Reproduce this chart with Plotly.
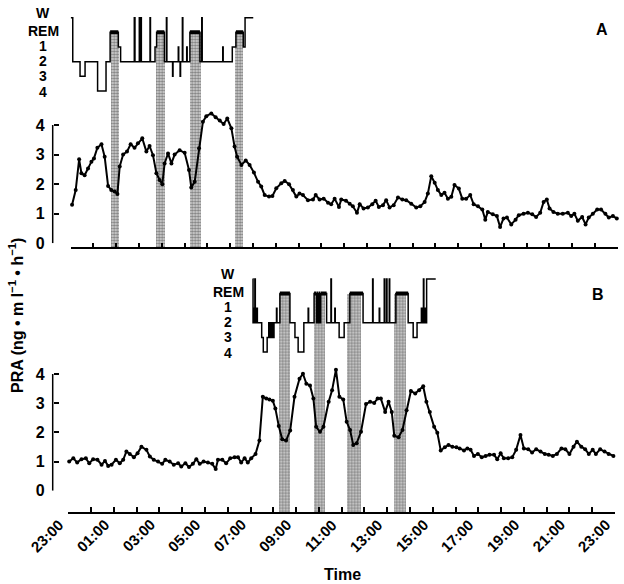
import plotly.graph_objects as go

# ---------------- data ----------------
tick_hours = list(range(25))
tick_labels = ["23:00", "", "01:00", "", "03:00", "", "05:00", "", "07:00", "", "09:00", "", "11:00", "",
               "13:00", "", "15:00", "", "17:00", "", "19:00", "", "21:00", "", "23:00"]
stage_names = ["W", "REM", "1", "2", "3", "4"]
stage_level = {"4": 0, "3": 1, "2": 2, "1": 3, "REM": 4, "W": 5}

# Panel A : PRA (hours after 23:00)
pra_a_t = [0.06, 0.22, 0.37, 0.47, 0.61, 0.76, 0.91, 1.02, 1.17, 1.35,
           1.49, 1.64, 1.78, 1.93, 2.05, 2.15, 2.3, 2.47, 2.63, 2.8,
           2.95, 3.14, 3.32, 3.46, 3.61, 3.76, 3.9, 4.02, 4.12, 4.27,
           4.42, 4.56, 4.78, 5.0, 5.19, 5.29, 5.44, 5.63, 5.8, 5.95,
           6.17, 6.36, 6.54, 6.71, 6.87, 7.05, 7.19, 7.3, 7.49, 7.68,
           7.85, 8.04, 8.22, 8.36, 8.51, 8.7, 8.85, 9.02, 9.24, 9.39,
           9.58, 9.75, 9.9,
           10.04, 10.19, 10.41, 10.63, 10.75, 10.92, 11.1, 11.29, 11.43, 11.58,
           11.77, 11.87, 12.08, 12.24, 12.38, 12.56, 12.68, 12.85, 13.04, 13.23,
           13.38, 13.52, 13.7, 13.84, 13.99, 14.17, 14.36, 14.55, 14.72, 14.94,
           15.16, 15.34, 15.53, 15.67, 15.82, 15.97, 16.11, 16.26, 16.4, 16.55,
           16.7, 16.84, 17.03, 17.18, 17.35, 17.53, 17.68, 17.87, 18.06, 18.19,
           18.3, 18.52, 18.7, 18.84, 18.99, 19.14, 19.33, 19.52, 19.66, 19.87,
           20.06, 20.25, 20.42, 20.6, 20.75, 20.89, 21.01, 21.18, 21.37, 21.59,
           21.81, 21.96, 22.1, 22.25, 22.44, 22.59, 22.73, 22.91, 23.1, 23.27,
           23.46, 23.61, 23.79, 23.96]
pra_a_v = [1.3, 1.8, 2.84, 2.37, 2.3, 2.53, 2.76, 2.87, 3.23, 3.35,
           2.93, 1.94, 1.8, 1.75, 1.67, 2.6, 3.0, 3.1, 3.35, 3.23,
           3.38, 3.55, 3.1, 3.29, 2.98, 2.37, 2.14, 2.0, 2.7, 3.04,
           2.7, 3.0, 3.15, 3.06, 2.48, 1.89, 2.08, 3.21, 4.11, 4.3,
           4.39, 4.26, 4.15, 4.03, 4.22, 3.89, 3.27, 2.93, 2.65, 2.8,
           2.65, 2.39, 2.08, 1.92, 1.63, 1.58, 1.6, 1.86, 2.03, 2.11,
           2.0, 1.8, 1.58,
           1.68, 1.63, 1.46, 1.48, 1.63, 1.48, 1.51, 1.37, 1.32, 1.51,
           1.23, 1.48, 1.44, 1.34, 1.25, 1.03, 1.32, 1.18, 1.21, 1.32,
           1.44, 1.23, 1.29, 1.46, 1.21, 1.29, 1.55, 1.48, 1.46, 1.34,
           1.21, 1.25, 1.4, 1.68, 2.27, 2.05, 1.8, 1.63, 1.71, 1.51,
           1.57, 1.97, 1.85, 1.51, 1.51, 1.63, 1.32, 1.25, 1.14, 0.8,
           1.06, 0.98, 0.92, 0.55, 0.84, 0.87, 0.64, 0.8, 0.95, 1.0,
           1.03, 0.98, 0.89, 1.03, 1.4, 1.48, 1.18, 1.06, 1.0, 1.0,
           1.03, 0.92, 1.0, 0.76, 0.89, 0.64, 0.87, 1.0, 1.14, 1.14,
           1.0, 0.87, 0.92, 0.84]

# Panel B : PRA
pra_b_t = [0.04, 0.22, 0.39, 0.58, 0.77, 0.92, 1.09, 1.28, 1.46, 1.61,
           1.75, 1.9, 2.09, 2.26, 2.41, 2.55, 2.7, 2.88, 3.04, 3.21,
           3.43, 3.58, 3.75, 3.94, 4.12, 4.26, 4.45, 4.63, 4.82, 4.96,
           5.14, 5.3, 5.47, 5.62, 5.77, 5.94, 6.13, 6.32, 6.47, 6.57,
           6.76, 6.93, 7.11, 7.3, 7.45, 7.59, 7.74, 7.88, 8.03, 8.22,
           8.39, 8.54, 8.69, 8.83, 8.98, 9.09, 9.24, 9.39, 9.56, 9.74,
           9.93,
           10.15, 10.3, 10.45, 10.61, 10.76, 10.88, 11.05, 11.2, 11.43, 11.58,
           11.75, 11.9, 12.07, 12.22, 12.37, 12.51, 12.66, 12.85, 13.07, 13.25,
           13.43, 13.58, 13.72, 13.91, 14.06, 14.2, 14.31, 14.5, 14.67, 14.85,
           15.04, 15.23, 15.4, 15.58, 15.72, 15.87, 16.06, 16.2, 16.35, 16.53,
           16.69, 16.86, 17.04, 17.18, 17.37, 17.52, 17.66, 17.81, 17.98, 18.15,
           18.32, 18.49, 18.69, 18.83, 18.98, 19.12, 19.31, 19.49, 19.66, 19.85,
           20.0, 20.19, 20.36, 20.54, 20.73, 20.92, 21.09, 21.27, 21.45, 21.65,
           21.82, 22.0, 22.18, 22.33, 22.52, 22.69, 22.85, 23.02, 23.16, 23.35,
           23.54, 23.72, 23.93]
pra_b_v = [1.0, 1.11, 0.97, 1.08, 1.11, 0.94, 1.08, 1.06, 0.89, 1.02,
           0.85, 0.89, 1.06, 0.94, 1.06, 1.34, 1.26, 1.15, 1.28, 1.51,
           1.4, 1.17, 1.06, 1.0, 0.92, 1.06, 1.0, 0.89, 0.94, 0.83,
           0.94, 0.81, 0.92, 1.08, 0.92, 1.0, 0.97, 0.92, 0.74, 1.06,
           1.06, 0.94, 1.11, 1.15, 1.15, 0.97, 1.11, 0.97, 1.11, 1.26,
           1.72, 3.22, 3.16, 3.13, 3.08, 2.82, 2.22, 1.76, 1.72, 2.06,
           3.22,
           3.84, 4.01, 3.67, 3.61, 3.16, 2.19, 2.02, 2.19, 3.05, 3.44,
           4.15, 3.22, 3.13, 2.36, 2.08, 1.57, 1.63, 2.02, 2.97, 3.05,
           3.01, 3.16, 3.16, 2.7, 3.05, 2.7, 1.88, 1.83, 2.08, 2.76,
           3.42, 3.33, 3.44, 3.58, 3.05, 2.7, 2.19, 1.99, 1.38, 1.49,
           1.57, 1.51, 1.49, 1.45, 1.38, 1.45, 1.4, 1.19, 1.26, 1.15,
           1.19, 1.23, 1.23, 1.08, 1.28, 1.11, 1.11, 1.15, 1.4, 1.91,
           1.45, 1.42, 1.31, 1.42, 1.34, 1.26, 1.23, 1.19, 1.26, 1.45,
           1.42, 1.26, 1.51, 1.68, 1.51, 1.42, 1.26, 1.4, 1.26, 1.42,
           1.34, 1.26, 1.19]

# Hypnograms (stage change times, hours after 23:00)
hyp_a_t = [0.0, 0.09, 0.41, 0.63, 1.18, 1.55, 1.73, 2.09, 2.19, 2.79,
           2.82, 3.01, 3.03, 3.08, 3.10, 3.48, 3.50, 3.70, 3.77, 4.11,
           4.20, 4.22, 4.47, 4.49, 4.72, 4.74, 4.80, 4.82, 4.90, 4.92,
           5.09, 5.11, 5.23, 5.67, 5.75, 5.77, 6.67, 6.69, 7.09, 7.25,
           7.57, 7.65, 8.01]
hyp_a_s = ["W", "2", "3", "2", "4", "2", "REM", "1", "2", "W",
           "2", "W", "2", "W", "2", "W", "2", "1", "REM", "2",
           "W", "2", "3", "2", "1", "2", "3", "2", "W", "2",
           "1", "2", "REM", "2", "W", "2", "1", "2", "1", "REM",
           "1", "W", "W"]

hyp_b_t = [8.09, 8.11, 8.15, 8.17, 8.19, 8.21, 8.24, 8.27, 8.30, 8.49,
           8.56, 8.73, 8.80, 8.84, 8.88, 8.92, 8.96, 8.99, 9.03, 9.14,
           9.16, 9.29, 9.73, 9.95, 10.09, 10.34, 10.53, 10.55, 10.79, 10.90,
           10.92, 10.98, 11.00, 11.06, 11.08, 11.34, 11.53, 11.55, 11.70, 11.72,
           11.89, 12.11, 12.36, 12.94, 13.36, 13.38, 13.65, 13.67, 13.87, 13.89,
           13.97, 13.99, 14.09, 14.11, 14.38, 14.92, 15.14, 15.31, 15.50, 15.53,
           15.56, 15.59, 15.61, 15.64, 15.67, 15.73, 16.13]
hyp_b_s = ["W", "2", "1", "2", "W", "1", "2", "1", "2", "3",
           "4", "3", "2", "3", "2", "3", "2", "3", "2", "1",
           "2", "REM", "2", "3", "4", "2", "1", "2", "REM", "2",
           "REM", "2", "REM", "2", "REM", "2", "W", "2", "1", "2",
           "3", "2", "REM", "2", "W", "2", "1", "2", "W", "2",
           "W", "2", "W", "2", "REM", "2", "3", "2", "1", "2",
           "1", "W", "2", "1", "2", "W", "W"]

# REM shaded periods
rem_a_start = [1.77, 3.73, 5.23, 7.21]
rem_a_end = [2.09, 4.11, 5.70, 7.53]
rem_b_start = [9.27, 10.81, 12.26, 14.31]
rem_b_end = [9.74, 11.27, 12.88, 14.85]

# ---------------- layout helpers ----------------
W, H = 624, 584
def fx(x):
    return x / W
def fy(y):
    return 1 - y / H

FONT = "Liberation Sans, Arial, Helvetica, sans-serif"
bold = dict(family=FONT, size=16, color="black", weight=700)
PRA_TOP = 4.6

fig = go.Figure()

def rem_segments(ts, ss):
    xs, ys = [], []
    for i in range(len(ts) - 1):
        if ss[i] == "REM":
            xs += [ts[i], ts[i + 1], None]
            ys += [4, 4, None]
    return xs, ys

def add_panel(xa, ybar, ypra, yhyp, rs, re_, pt, pv, ht, hs):
    fig.add_trace(go.Bar(
        x=[(s + e) / 2 for s, e in zip(rs, re_)], y=[1] * len(rs),
        width=[e - s for s, e in zip(rs, re_)], base=0,
        xaxis=xa, yaxis=ybar,
        marker=dict(color="#c8c8c8",
                    pattern=dict(shape=".", fgcolor="#2a2a2a", bgcolor="#d6d6d6",
                                 size=3, solidity=0.5),
                    line=dict(width=0)),
        showlegend=False, hoverinfo="skip"))
    fig.add_trace(go.Scatter(
        x=pt, y=pv, mode="lines+markers", xaxis=xa, yaxis=ypra,
        line=dict(color="black", width=2), marker=dict(color="black", size=4),
        showlegend=False, cliponaxis=False))
    fig.add_trace(go.Scatter(
        x=ht, y=[stage_level[s] for s in hs], mode="lines", xaxis=xa, yaxis=yhyp,
        line=dict(color="black", width=1.5, shape="hv"),
        showlegend=False, cliponaxis=False))
    rx, ry = rem_segments(ht, hs)
    fig.add_trace(go.Scatter(
        x=rx, y=ry, mode="lines", xaxis=xa, yaxis=yhyp,
        line=dict(color="black", width=4), showlegend=False, cliponaxis=False))

add_panel("x", "y", "y2", "y3", rem_a_start, rem_a_end, pra_a_t, pra_a_v, hyp_a_t, hyp_a_s)
add_panel("x2", "y4", "y5", "y6", rem_b_start, rem_b_end, pra_b_t, pra_b_v, hyp_b_t, hyp_b_s)

def xaxis_cfg(left, right, ypos):
    return dict(domain=[fx(left), fx(right)], range=[0, 24], anchor="free", position=fy(ypos),
                showline=True, linecolor="black", linewidth=1.5,
                ticks="inside", ticklen=5, tickwidth=1.5, tickcolor="black",
                tickmode="array", tickvals=tick_hours, showticklabels=False,
                showgrid=False, zeroline=False, automargin=False)

def pra_axis_cfg(y0, y4):
    ppu = (y0 - y4) / 4.0
    return dict(domain=[fy(y0), fy(y0 - PRA_TOP * ppu)], range=[0, PRA_TOP], anchor="free",
                position=fx(52.7), showline=False,
                ticks="inside", ticklen=5, tickwidth=1.5, tickcolor="black",
                tickvals=[0, 1, 2, 3, 4], tickfont=bold,
                showgrid=False, zeroline=False, automargin=False, ticklabelstandoff=8)

def hidden_axis(y_bottom, y_top, rng, anchor):
    return dict(domain=[fy(y_bottom), fy(y_top)], range=rng, anchor=anchor, visible=False,
                showgrid=False, zeroline=False, fixedrange=True)

def hyp_axis(y_lvl0, y_lvl5, anchor):
    ppu = (y_lvl0 - y_lvl5) / 5.0
    return hidden_axis(y_lvl0 + 0.6 * ppu, y_lvl5 - 0.6 * ppu, [-0.6, 5.6], anchor)

fig.update_layout(
    width=W, height=H, margin=dict(l=0, r=0, t=0, b=0),
    paper_bgcolor="white", plot_bgcolor="rgba(0,0,0,0)",
    showlegend=False, bargap=0,
    xaxis=xaxis_cfg(70.7, 617.7, 248.3),
    xaxis2=xaxis_cfg(68.3, 615.0, 512.7),
    yaxis=hidden_axis(248.3, 32, [0, 1], "x"),
    yaxis2=pra_axis_cfg(243.3, 125),
    yaxis3=hyp_axis(91, 17.7, "x"),
    yaxis4=hidden_axis(512.7, 293.6, [0, 1], "x2"),
    yaxis5=pra_axis_cfg(490.7, 374),
    yaxis6=hyp_axis(352, 279, "x2"),
)

# y axis lines (0 to 4 only, as in the original)
fig.update_layout(shapes=[
    dict(type="line", xref="paper", yref=yr, x0=fx(52.7), x1=fx(52.7), y0=0, y1=4,
         line=dict(color="black", width=1.5))
    for yr in ("y2", "y5")
])

label_nudge = {"W": 0.32, "REM": 0.12, "1": 0.1, "2": 0.08, "3": 0.02, "4": -0.05}
annotations = []
for yref, xc in (("y3", 43), ("y6", 228.5)):
    for name in stage_names:
        annotations.append(dict(text=name, xref="paper", yref=yref, x=fx(xc),
                                y=stage_level[name] + label_nudge[name],
                                xanchor="center", yanchor="middle", showarrow=False,
                                font=dict(bold, size=14), borderpad=0))
# rotated time labels on the bottom axis
for hv, lab in zip(tick_hours, tick_labels):
    if lab:
        annotations.append(dict(text=lab, xref="x2", yref="paper", x=hv, y=fy(515),
                                textangle=-45, xanchor="right", yanchor="top",
                                showarrow=False, font=dict(bold, size=15), borderpad=0))
annotations += [
    dict(text="A", xref="paper", yref="paper", x=fx(601.5), y=fy(29), showarrow=False,
         xanchor="center", yanchor="middle", font=bold),
    dict(text="B", xref="paper", yref="paper", x=fx(598), y=fy(294), showarrow=False,
         xanchor="center", yanchor="middle", font=bold),
    dict(text="Time", xref="paper", yref="paper", x=fx(342), y=fy(574), showarrow=False,
         xanchor="center", yanchor="middle", font=bold),
    dict(text="PRA (ng \u2022 m l<sup>\u22121</sup> \u2022 h<sup>\u22121</sup>)",
         xref="paper", yref="paper", x=fx(16), y=fy(316), textangle=-90, showarrow=False,
         xanchor="center", yanchor="middle", font=bold),
]
fig.update_layout(annotations=annotations)

fig.write_html("out.html", config={"displayModeBar": False},
               post_script="document.body.style.margin='0';document.body.style.padding='0';")
